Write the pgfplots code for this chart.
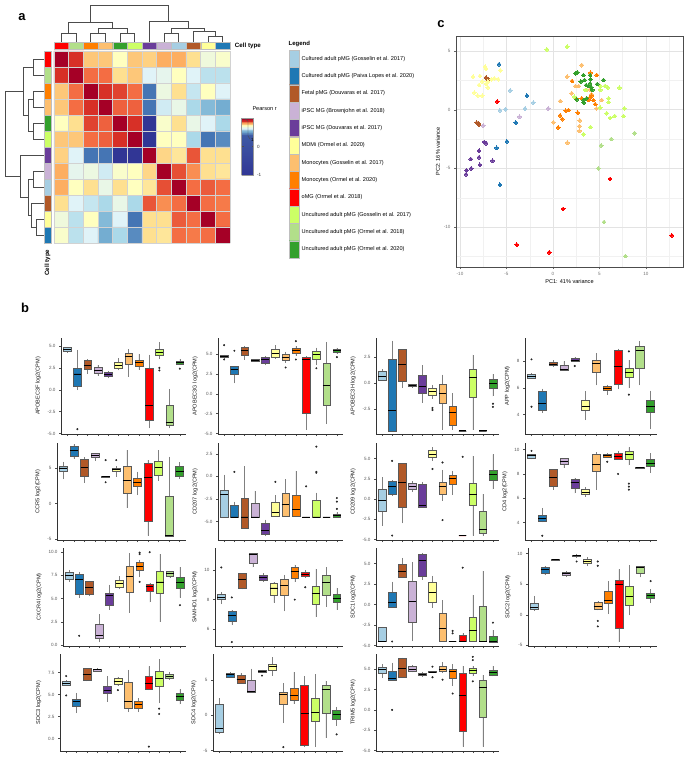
\documentclass[border=0pt]{standalone}
\usepackage{fontspec}
\setmainfont{Liberation Sans}
\usepackage{pgfplots}
\pgfplotsset{compat=1.18}
\usepgfplotslibrary{statistics}

\definecolor{c1}{HTML}{A6CEE3}
\definecolor{c2}{HTML}{1F78B4}
\definecolor{c3}{HTML}{B15928}
\definecolor{c4}{HTML}{CAB2D6}
\definecolor{c5}{HTML}{6A3D9A}
\definecolor{c6}{HTML}{FFFF99}
\definecolor{c7}{HTML}{FDBF6F}
\definecolor{c8}{HTML}{FF7F00}
\definecolor{c9}{HTML}{FF0000}
\definecolor{c10}{HTML}{CCFF66}
\definecolor{c11}{HTML}{B2DF8A}
\definecolor{c12}{HTML}{33A02C}

\newcommand\tkf{\fontsize{4.6}{5}\selectfont}
\newcommand\lbf{\fontsize{5.6}{6.5}\selectfont}

\pgfplotsset{
  /pgf/number format/assume math mode=true,
  colormap={hm}{rgb255=(49,54,149) rgb255=(69,117,180) rgb255=(116,173,209) rgb255=(171,217,233)
    rgb255=(224,243,248) rgb255=(255,255,191) rgb255=(254,224,144) rgb255=(253,174,97)
    rgb255=(244,109,67) rgb255=(215,48,39) rgb255=(165,0,38)},
  colormap={cb}{rgb255(0cm)=(49,54,149); rgb255(14cm)=(62,90,165); rgb255(15.5cm)=(116,173,209);
    rgb255(16.5cm)=(224,243,248); rgb255(17.5cm)=(255,255,191); rgb255(18.3cm)=(253,174,97);
    rgb255(19cm)=(215,48,39); rgb255(20cm)=(165,0,38)},
  bp/.style={scale only axis, anchor=north west, xmin=0.4, xmax=12.6,
    xtick={1,...,12}, xticklabels={}, axis lines=left,
    axis line style={-, black!80, line width=0.5bp},
    tick align=outside, major tick length=2bp, tick style={black!70, line width=0.4bp},
    yticklabel style={font=\tkf, black!65}, ylabel style={font=\lbf, black!90},
    clip=false, boxplot/draw direction=y, boxplot/box extend=0.75, boxplot/whisker extend=0,
    boxplot/every whisker/.style={black!50, line width=0.4bp},
    boxplot/every median/.style={black, line width=0.8bp}},
  fx1/.style={yticklabel style={/pgf/number format/fixed, /pgf/number format/fixed zerofill,
    /pgf/number format/precision=1}},
  pca/.style={only marks, mark=*, mark size=1.9bp, color=#1, mark options={draw=#1, fill=#1, line width=0bp}},
}

% box: position, lower whisker, lower quartile, median, upper quartile, upper whisker, outliers
\newcommand{\bx}[7]{\addplot[boxplot prepared={draw position=#1, lower whisker=#2,
  lower quartile=#3, median=#4, upper quartile=#5, upper whisker=#6},
  fill=c#1, draw=black!65, line width=0.4bp, mark=*, mark size=0.8bp,
  mark options={draw=black!85, fill=black!85}] coordinates {#7};}
\newcommand{\tile}[5]{\addplot[fill=#5, draw=gray!50, line width=0.3bp]
  coordinates {(#1,#3)(#2,#3)(#2,#4)(#1,#4)(#1,#3)};}

\begin{document}
\begin{tikzpicture}
\useasboundingbox (0,0) rectangle (685bp,-757bp);

\node[font=\fontsize{13}{14}\selectfont\bfseries] at (22bp,-17bp) {a};
\node[font=\fontsize{13}{14}\selectfont\bfseries] at (441bp,-24bp) {c};
\node[font=\fontsize{13}{14}\selectfont\bfseries] at (25bp,-308bp) {b};

% ---------------- heatmap
\begin{axis}[at={(54bp,-51bp)}, anchor=north west, scale only axis, width=176bp, height=192bp,
  xmin=0.5, xmax=12.5, ymin=0.5, ymax=12.5, y dir=reverse, clip=false,
  axis line style={draw=none}, tick style={draw=none},
  xtick={0.5,1.5,...,12.5}, ytick={0.5,1.5,...,12.5}, xticklabels={}, yticklabels={},
  grid=major, grid style={gray!35, line width=0.5bp}, axis on top,
  colormap name=hm, point meta min=-4, point meta max=6]
\addplot[matrix plot*, mesh/cols=12, point meta=explicit] coordinates {
(1,1)[6] (2,1)[5] (3,1)[2.5] (4,1)[2.5] (5,1)[1] (6,1)[2.5] (7,1)[2.3] (8,1)[3] (9,1)[3] (10,1)[2] (11,1)[0.5] (12,1)[0.8]
(1,2)[5] (2,2)[6] (3,2)[4] (4,2)[4] (5,2)[2] (6,2)[2.5] (7,2)[0] (8,2)[0.2] (9,2)[1] (10,2)[0] (11,2)[-0.7] (12,2)[-0.7]
(1,3)[2.5] (2,3)[4] (3,3)[6] (4,3)[5] (5,3)[4.7] (6,3)[4] (7,3)[-3] (8,3)[0.4] (9,3)[2] (10,3)[-0.5] (11,3)[1] (12,3)[0]
(1,4)[2.5] (2,4)[4] (3,4)[5] (4,4)[6] (5,4)[4.2] (6,4)[4.2] (7,4)[-3] (8,4)[-0.3] (9,4)[0.3] (10,4)[-1] (11,4)[-1.7] (12,4)[-2]
(1,5)[1] (2,5)[2] (3,5)[4.7] (4,5)[4.2] (5,5)[6] (6,5)[5] (7,5)[-4] (8,5)[0.8] (9,5)[2] (10,5)[0.3] (11,5)[0] (12,5)[-1]
(1,6)[2.5] (2,6)[2.5] (3,6)[4] (4,6)[4.2] (5,6)[5] (6,6)[6] (7,6)[-4] (8,6)[1] (9,6)[1] (10,6)[-1] (11,6)[-3] (12,6)[-2.6]
(1,7)[2.3] (2,7)[0] (3,7)[-3] (4,7)[-3] (5,7)[-4] (6,7)[-4] (7,7)[6] (8,7)[2.2] (9,7)[1.8] (10,7)[4.4] (11,7)[2] (12,7)[2]
(1,8)[3] (2,8)[0.2] (3,8)[0.4] (4,8)[-0.3] (5,8)[0.8] (6,8)[1] (7,8)[2.2] (8,8)[6] (9,8)[4.5] (10,8)[3.5] (11,8)[2] (12,8)[1.8]
(1,9)[3] (2,9)[1] (3,9)[2] (4,9)[0.3] (5,9)[2] (6,9)[1] (7,9)[1.8] (8,9)[4.5] (9,9)[6] (10,9)[4] (11,9)[4.3] (12,9)[4]
(1,10)[2] (2,10)[0] (3,10)[-0.5] (4,10)[-1] (5,10)[0.3] (6,10)[-1] (7,10)[4.4] (8,10)[3.5] (9,10)[4] (10,10)[6] (11,10)[4] (12,10)[3.8]
(1,11)[0.5] (2,11)[-0.7] (3,11)[1] (4,11)[-1.7] (5,11)[0] (6,11)[-3] (7,11)[2] (8,11)[2] (9,11)[4.3] (10,11)[4] (11,11)[6] (12,11)[4]
(1,12)[0.8] (2,12)[-0.7] (3,12)[0] (4,12)[-2] (5,12)[-1] (6,12)[-2.6] (7,12)[2] (8,12)[1.8] (9,12)[4] (10,12)[3.8] (11,12)[4] (12,12)[6]
};
% column dendrogram
\addplot[black!70, line width=0.45bp] coordinates {(1,-0.06)(1,-0.625)(2,-0.625)(2,-0.06)};
\addplot[black!70, line width=0.45bp] coordinates {(3,-0.06)(3,-0.625)(4,-0.625)(4,-0.06)};
\addplot[black!70, line width=0.45bp] coordinates {(5,-0.06)(5,-0.625)(6,-0.625)(6,-0.06)};
\addplot[black!70, line width=0.45bp] coordinates {(3.5,-0.625)(3.5,-0.94)(5.5,-0.94)(5.5,-0.625)};
\addplot[black!70, line width=0.45bp] coordinates {(1.5,-0.625)(1.5,-1.27)(4.5,-1.27)(4.5,-0.94)};
\addplot[black!70, line width=0.45bp] coordinates {(8,-0.06)(8,-0.625)(9,-0.625)(9,-0.06)};
\addplot[black!70, line width=0.45bp] coordinates {(11,-0.06)(11,-0.44)(12,-0.44)(12,-0.06)};
\addplot[black!70, line width=0.45bp] coordinates {(10,-0.06)(10,-0.71)(11.5,-0.71)(11.5,-0.44)};
\addplot[black!70, line width=0.45bp] coordinates {(8.5,-0.625)(8.5,-0.94)(10.75,-0.94)(10.75,-0.71)};
\addplot[black!70, line width=0.45bp] coordinates {(7,-0.06)(7,-1.39)(9.625,-1.39)(9.625,-0.94)};
\addplot[black!70, line width=0.45bp] coordinates {(3,-1.27)(3,-2.375)(8.3125,-2.375)(8.3125,-1.39)};
% row dendrogram
\addplot[black!70, line width=0.45bp] coordinates {(-0.18,1)(-0.93,1)(-0.93,2)(-0.18,2)};
\addplot[black!70, line width=0.45bp] coordinates {(-0.18,3)(-0.93,3)(-0.93,4)(-0.18,4)};
\addplot[black!70, line width=0.45bp] coordinates {(-0.18,5)(-0.93,5)(-0.93,6)(-0.18,6)};
\addplot[black!70, line width=0.45bp] coordinates {(-0.93,3.5)(-1.27,3.5)(-1.27,5.5)(-0.93,5.5)};
\addplot[black!70, line width=0.45bp] coordinates {(-0.93,1.5)(-1.63,1.5)(-1.63,4.5)(-1.27,4.5)};
\addplot[black!70, line width=0.45bp] coordinates {(-0.18,8)(-0.93,8)(-0.93,9)(-0.18,9)};
\addplot[black!70, line width=0.45bp] coordinates {(-0.18,11)(-0.73,11)(-0.73,12)(-0.18,12)};
\addplot[black!70, line width=0.45bp] coordinates {(-0.18,10)(-1.02,10)(-1.02,11.5)(-0.73,11.5)};
\addplot[black!70, line width=0.45bp] coordinates {(-0.93,8.5)(-1.27,8.5)(-1.27,10.75)(-1.02,10.75)};
\addplot[black!70, line width=0.45bp] coordinates {(-0.18,7)(-1.77,7)(-1.77,9.625)(-1.27,9.625)};
\addplot[black!70, line width=0.45bp] coordinates {(-1.63,3)(-2.84,3)(-2.84,8.3125)(-1.77,8.3125)};
% annotation tiles, top
\tile{0.5}{1.5}{-0.06}{0.375}{c9}   \tile{1.5}{2.5}{-0.06}{0.375}{c11}
\tile{2.5}{3.5}{-0.06}{0.375}{c8}   \tile{3.5}{4.5}{-0.06}{0.375}{c7}
\tile{4.5}{5.5}{-0.06}{0.375}{c12}  \tile{5.5}{6.5}{-0.06}{0.375}{c10}
\tile{6.5}{7.5}{-0.06}{0.375}{c5}   \tile{7.5}{8.5}{-0.06}{0.375}{c4}
\tile{8.5}{9.5}{-0.06}{0.375}{c1}   \tile{9.5}{10.5}{-0.06}{0.375}{c3}
\tile{10.5}{11.5}{-0.06}{0.375}{c6} \tile{11.5}{12.5}{-0.06}{0.375}{c2}
% annotation tiles, left
\tile{-0.18}{0.295}{0.5}{1.5}{c9}   \tile{-0.18}{0.295}{1.5}{2.5}{c11}
\tile{-0.18}{0.295}{2.5}{3.5}{c8}   \tile{-0.18}{0.295}{3.5}{4.5}{c7}
\tile{-0.18}{0.295}{4.5}{5.5}{c12}  \tile{-0.18}{0.295}{5.5}{6.5}{c10}
\tile{-0.18}{0.295}{6.5}{7.5}{c5}   \tile{-0.18}{0.295}{7.5}{8.5}{c4}
\tile{-0.18}{0.295}{8.5}{9.5}{c1}   \tile{-0.18}{0.295}{9.5}{10.5}{c3}
\tile{-0.18}{0.295}{10.5}{11.5}{c6} \tile{-0.18}{0.295}{11.5}{12.5}{c2}
\node[anchor=west, font=\fontsize{6.2}{7}\selectfont\bfseries] at (axis cs:12.6,0.16) {Cell type};
\node[rotate=90, anchor=east, font=\fontsize{6.2}{7}\selectfont\bfseries] at (axis cs:0.06,12.7) {Cell type};
\end{axis}

% ---------------- colour bar
\begin{axis}[at={(233bp,-118bp)}, anchor=north west, scale only axis, width=12bp, height=57bp,
  hide axis, xmin=0, xmax=1, ymin=0, ymax=1, colormap name=cb,
  point meta min=-1, point meta max=1, colorbar sampled,
  colorbar style={at={(parent axis.north west)}, anchor=north west, scale only axis,
    width=12bp, height=57bp, samples=80, ytick={-1,0},
    yticklabel style={font=\tkf, black!80}, axis line style={black!40, line width=0.3bp},
    major tick length=2bp, tick style={black!70}}]
\addplot[draw=none] coordinates {(0,0)};
\end{axis}
\node[anchor=west, font=\lbf] at (249bp,-109bp) {Pearson r};
\draw[black!70, line width=0.3bp] (245bp,-119bp) -- (248bp,-121bp) -- (248bp,-136bp) -- (250bp,-139bp);
\node[anchor=west, font=\tkf, inner sep=1bp] at (250bp,-140bp) {1};

% ---------------- legend
\begin{axis}[at={(289bp,-50bp)}, anchor=north west, scale only axis, width=10bp, height=208bp,
  hide axis, xmin=0, xmax=1, ymin=0, ymax=12, y dir=reverse, clip=false]
\tile{0}{1}{0}{1}{c1}   \tile{0}{1}{1}{2}{c2}   \tile{0}{1}{2}{3}{c3}
\tile{0}{1}{3}{4}{c4}   \tile{0}{1}{4}{5}{c5}   \tile{0}{1}{5}{6}{c6}
\tile{0}{1}{6}{7}{c7}   \tile{0}{1}{7}{8}{c8}   \tile{0}{1}{8}{9}{c9}
\tile{0}{1}{9}{10}{c10} \tile{0}{1}{10}{11}{c11} \tile{0}{1}{11}{12}{c12}
\node[anchor=south west, font=\fontsize{6}{7}\selectfont\bfseries, inner sep=0.5bp] at (axis cs:-0.1,-0.15) {Legend};
\begin{scope}[every node/.style={anchor=west, font=\fontsize{5.6}{6.5}\selectfont, inner sep=1bp}]
\node at (axis cs:1.15,0.5) {Cultured adult pMG (Gosselin et al. 2017)};
\node at (axis cs:1.15,1.5) {Cultured adult pMG (Paiva Lopes et al. 2020)};
\node at (axis cs:1.15,2.5) {Fetal pMG (Douvaras et al. 2017)};
\node at (axis cs:1.15,3.5) {iPSC MG (Brownjohn et al. 2018)};
\node at (axis cs:1.15,4.5) {iPSC MG (Douvaras et al. 2017)};
\node at (axis cs:1.15,5.5) {MDMi (Ormel et al. 2020)};
\node at (axis cs:1.15,6.5) {Monocytes (Gosselin et al. 2017)};
\node at (axis cs:1.15,7.5) {Monocytes (Ormel et al. 2020)};
\node at (axis cs:1.15,8.5) {oMG (Ormel et al. 2018)};
\node at (axis cs:1.15,9.5) {Uncultured adult pMG (Gosselin et al. 2017)};
\node at (axis cs:1.15,10.5) {Uncultured adult pMG (Ormel et al. 2018)};
\node at (axis cs:1.15,11.5) {Uncultured adult pMG (Ormel et al. 2020)};
\end{scope}
\end{axis}

% ---------------- PCA
\begin{axis}[at={(456bp,-36bp)}, anchor=north west, scale only axis, width=227bp, height=231bp,
  xmin=-10.43, xmax=14, ymin=-13.4, ymax=6.28,
  xtick={-10,-5,0,5,10}, ytick={-10,-5,0,5},
  minor xtick={-7.5,-2.5,2.5,7.5,12.5}, minor ytick={-12.5,-7.5,-2.5,2.5},
  grid=both, major grid style={gray!22, line width=0.5bp}, minor grid style={gray!11, line width=0.3bp},
  axis line style={black!70, line width=0.5bp}, xtick pos=lower, ytick pos=left,
  tick align=outside, major tick length=2bp, minor tick length=0pt, tick style={black!60},
  ticklabel style={font=\tkf, black!55}, label style={font=\lbf},
  xlabel={PC1: 41\% variance}, ylabel={PC2: 16\% variance},
  xlabel style={yshift=3bp}, ylabel style={yshift=-3bp}]
\addplot[pca=c1] coordinates {(-4.6,1.65)(-5.7,-0.05)(-5.1,0.05)(-3.0,0.1)(-2.1,0.6)};
\addplot[pca=c2] coordinates {(-5.8,3.87)(-2.8,1.2)(-4.0,-1.1)(-4.95,-2.7)(-6.05,-3.25)(-5.7,-6.4)};
\addplot[pca=c3] coordinates {(-7.2,2.75)(-7.1,2.65)(-6.95,2.6)(-8.2,-1.1)(-8.05,-1.2)(-7.95,-1.25)};
\addplot[pca=c4] coordinates {(-7.5,-1.35)(-3.6,-0.6)(-0.5,0.1)};
\addplot[pca=c5] coordinates {(-7.4,-2.75)(-7.2,-2.85)(-7.95,-3.5)(-8.85,-4.2)(-7.95,-4.05)(-7.85,-4.7)(-8.8,-5.0)(-9.3,-5.15)(-9.35,-5.5)(-6.5,-4.35)};
\addplot[pca=c6] coordinates {(-7.3,3.66)(-7.2,3.5)(-8.6,2.8)(-7.85,2.87)(-7.6,2.4)(-7.0,2.4)(-8.45,1.45)(-8.1,1.2)(-7.6,1.2)(-7.0,1.9)(-6.6,2.6)(-6.3,2.67)(-5.9,2.6)(-7.95,2.1)(-7.2,2.2)(-5.65,3.35)};
\addplot[pca=c7] coordinates {(3.1,3.8)(1.53,2.81)(2.42,2.02)(2.03,1.4)(2.78,2.02)(4.0,1.73)(0.8,0.74)(0.05,-1.08)(1.56,-2.81)(2.89,-0.91)(2.85,-1.39)(4.69,0.11)(5.26,0.82)(4.15,1.31)(3.64,1.68)(2.85,-1.8)};
\addplot[pca=c8] coordinates {(2.06,2.44)(3.1,0.97)(4.0,1.05)(4.15,1.19)(4.36,0.82)(4.54,0.48)(0.77,-0.48)(1.0,-0.8)(1.38,-0.09)(1.67,-0.03)(0.56,-1.5)(4.72,2.95)(4.04,3.15)(2.68,-0.26)(3.82,0.82)(2.5,0.94)};
\addplot[pca=c9] coordinates {(-6.0,0.7)(6.15,-5.9)(1.1,-8.45)(-3.9,-11.5)(-0.4,-12.15)(12.8,-10.7)};
\addplot[pca=c10] coordinates {(-0.66,5.14)(1.53,5.37)(5.08,2.02)(5.62,2.02)(5.9,1.9)(7.16,1.88)(5.1,1.68)(6.0,0.97)(6.0,0.65)(5.08,0.17)(5.8,-0.3)(6.16,-0.7)(6.66,-0.54)(7.7,0.11)(7.6,-0.54)(4.04,-1.48)(3.29,-2.1)(2.3,1.1)(3.47,1.68)};
\addplot[pca=c11] coordinates {(8.8,-2.0)(6.27,-2.5)(5.2,-3.04)(4.9,-5.0)(5.5,-9.57)(7.8,-12.47)};
\addplot[pca=c12] coordinates {(2.42,3.1)(2.64,3.18)(3.28,2.95)(4.0,2.95)(4.04,2.59)(3.39,2.53)(4.0,2.24)(3.57,2.1)(4.15,1.9)(4.76,2.19)(5.44,2.53)(3.0,2.41)(2.57,0.88)(3.29,0.82)(3.32,0.6)(3.64,0.97)(4.22,1.68)(3.82,2.02)};
\end{axis}

% ---------------- boxplots, row 1
\begin{axis}[bp, at={(61bp,-338bp)}, width=125bp, height=96bp, ymin=-5.05, ymax=5.9,
  ytick={-5,-2.5,0,2.5,5}, fx1, ylabel={APOBEC3F log2(CPM)}]
\bx{1}{4.2}{4.4}{4.6}{4.8}{4.9}{}
\bx{2}{-0.05}{0.35}{1.8}{2.45}{4.55}{(0,-4.5)}
\bx{3}{1.8}{2.3}{2.8}{3.35}{3.5}{}
\bx{4}{1.6}{1.9}{2.2}{2.55}{2.8}{}
\bx{5}{1.3}{1.5}{1.75}{1.95}{2.1}{}
\bx{6}{2.2}{2.45}{2.8}{3.1}{3.6}{}
\bx{7}{1.5}{2.95}{3.8}{4.2}{4.6}{}
\bx{8}{2.3}{2.7}{3.1}{3.4}{4.1}{}
\bx{9}{-4.4}{-3.45}{-1.8}{2.45}{4.0}{}
\bx{10}{3.5}{3.9}{4.3}{4.6}{5.4}{(0,2.5)(0,2.2)}
\bx{11}{-4.4}{-4.1}{-3.7}{-1.8}{0.1}{}
\bx{12}{2.8}{2.95}{3.1}{3.3}{3.5}{(0,2.4)}
\end{axis}

\begin{axis}[bp, at={(218bp,-338bp)}, width=125bp, height=96bp, ymin=-5.05, ymax=7.0,
  ytick={-5,-2.5,0,2.5,5}, fx1, ylabel={APOBEC3G log2(CPM)}]
\bx{1}{4.5}{4.55}{4.7}{4.85}{4.9}{(0,6.1)(0,4.3)}
\bx{2}{1.3}{2.4}{3.0}{3.4}{3.5}{(0,5.4)}
\bx{3}{4.3}{4.8}{5.4}{5.85}{6.0}{}
\bx{4}{4.1}{4.15}{4.2}{4.3}{4.3}{}
\bx{5}{3.6}{3.9}{4.3}{4.6}{4.7}{}
\bx{6}{4.4}{4.6}{5.1}{5.6}{6.1}{}
\bx{7}{3.9}{4.2}{4.6}{5.0}{5.3}{(0,3.3)}
\bx{8}{4.8}{5.1}{5.5}{5.7}{6.0}{(0,6.6)(0,4.3)}
\bx{9}{-4.5}{-2.4}{4.35}{4.55}{4.7}{}
\bx{10}{3.6}{4.4}{4.9}{5.3}{5.8}{(0,3.2)}
\bx{11}{-3.8}{-1.4}{1.1}{3.85}{6.5}{}
\bx{12}{5.0}{5.2}{5.4}{5.6}{5.8}{(0,4.6)}
\end{axis}

\begin{axis}[bp, at={(376bp,-338bp)}, width=123bp, height=96bp, ymin=-4.9, ymax=4.3,
  ytick={-2.5,0,2.5}, fx1, ylabel={APOBEC3H log2(CPM)}]
\bx{1}{0.3}{0.3}{0.65}{1.1}{1.3}{}
\bx{2}{-4.6}{-4.6}{-2.6}{2.3}{4.05}{}
\bx{3}{-0.5}{0.2}{1.8}{3.2}{3.2}{}
\bx{4}{-0.45}{-0.35}{-0.25}{-0.15}{-0.1}{}
\bx{5}{-1.9}{-1.0}{-0.3}{0.75}{1.7}{}
\bx{6}{-1.5}{-1.2}{-0.85}{-0.5}{-0.2}{(0,-2.4)(0,-2.6)}
\bx{7}{-4.5}{-1.95}{-1.0}{-0.1}{0.8}{}
\bx{8}{-4.5}{-4.1}{-2.85}{-2.2}{-1.0}{}
\bx{9}{-4.6}{-4.6}{-4.6}{-4.6}{-4.6}{}
\bx{10}{-4.5}{-1.4}{0.5}{1.3}{2.7}{}
\bx{11}{-4.6}{-4.6}{-4.6}{-4.6}{-4.6}{}
\bx{12}{-1.3}{-0.55}{-0.05}{0.35}{0.85}{(0,-2.0)(0,-2.3)}
\end{axis}

\begin{axis}[bp, at={(525bp,-338bp)}, width=132bp, height=96bp, ymin=2.55, ymax=9.75,
  ytick={4,6,8}, ylabel={APP log2(CPM)}]
\bx{1}{6.7}{6.75}{6.9}{7.05}{7.1}{(0,8.15)(0,4.6)}
\bx{2}{4.15}{4.3}{4.85}{5.75}{5.95}{}
\bx{3}{7.6}{7.7}{7.8}{7.9}{8.1}{}
\bx{4}{7.3}{7.3}{7.4}{7.7}{8.0}{}
\bx{5}{8.0}{8.0}{8.1}{8.2}{8.3}{(0,7.65)}
\bx{6}{3.6}{4.3}{4.6}{5.1}{5.75}{}
\bx{7}{6.2}{7.2}{7.85}{8.1}{8.6}{}
\bx{8}{5.5}{5.8}{5.95}{6.1}{6.25}{}
\bx{9}{5.9}{6.3}{7.65}{8.8}{8.95}{}
\bx{10}{6.0}{6.8}{7.2}{7.5}{8.1}{(0,8.75)(0,5.5)}
\bx{11}{6.2}{7.5}{8.8}{9.1}{9.5}{}
\bx{12}{2.9}{4.2}{4.6}{5.1}{5.8}{}
\end{axis}

% ---------------- row 2
\begin{axis}[bp, at={(57bp,-443bp)}, width=129bp, height=97bp, ymin=-5.1, ymax=8.5,
  ytick={-5,0,5}, ylabel={CCR5 log2(CPM)}]
\bx{1}{3.4}{4.5}{5.0}{5.25}{5.9}{}
\bx{2}{6.3}{6.6}{7.4}{8.0}{8.3}{}
\bx{3}{2.9}{3.8}{5.1}{6.2}{6.5}{}
\bx{4}{6.0}{6.5}{6.8}{7.1}{7.1}{}
\bx{5}{3.75}{3.75}{3.8}{3.85}{3.85}{(0,6.1)(0,3.0)}
\bx{6}{3.8}{4.5}{4.75}{5.0}{5.3}{(0,6.1)}
\bx{7}{-0.6}{1.4}{3.2}{5.3}{7.5}{}
\bx{8}{1.2}{2.4}{3.0}{3.5}{4.5}{}
\bx{9}{-4.5}{-2.5}{3.7}{5.7}{6.1}{}
\bx{10}{3.2}{4.0}{5.1}{6.0}{7.5}{}
\bx{11}{-4.5}{-4.5}{-4.5}{1.0}{6.6}{}
\bx{12}{3.5}{3.8}{4.5}{5.2}{5.8}{}
\end{axis}

\begin{axis}[bp, at={(218bp,-443bp)}, width=125bp, height=97bp, ymin=-7.05, ymax=3.7,
  ytick={-5,-2.5,0,2.5}, fx1, ylabel={CD207 log2(CPM)}]
\bx{1}{-4.5}{-4.5}{-2.0}{-1.5}{0.2}{}
\bx{2}{-4.5}{-4.5}{-4.5}{-3.2}{-2.8}{(0,0.5)}
\bx{3}{-5.8}{-5.7}{-4.5}{-2.4}{1.1}{}
\bx{4}{-4.5}{-4.5}{-4.5}{-3.0}{-1.6}{}
\bx{5}{-6.6}{-6.4}{-6.0}{-5.2}{-4.8}{}
\bx{6}{-4.4}{-4.4}{-4.0}{-2.9}{-2.1}{(0,-0.6)}
\bx{7}{-4.4}{-4.4}{-3.1}{-1.9}{-0.3}{}
\bx{8}{-4.4}{-4.4}{-3.7}{-2.1}{0.6}{}
\bx{9}{-4.5}{-4.5}{-4.5}{-4.5}{-4.5}{(0,-1.1)}
\bx{10}{-4.5}{-4.5}{-4.5}{-2.6}{-1.8}{(0,3.3)(0,0.5)(0,0.4)}
\bx{11}{-4.5}{-4.5}{-4.5}{-4.5}{-4.5}{}
\bx{12}{-4.6}{-4.5}{-4.35}{-4.2}{-4.0}{(0,-2.4)(0,-2.8)(0,-3.6)}
\end{axis}

\begin{axis}[bp, at={(376bp,-443bp)}, width=123bp, height=97bp, ymin=-5.05, ymax=6.9,
  ytick={-5,-2.5,0,2.5,5}, fx1, ylabel={CD209 log2(CPM)}]
\bx{1}{-3.3}{-1.5}{-0.2}{1.2}{2.7}{}
\bx{2}{0.4}{0.6}{1.6}{2.2}{2.3}{(0,4.7)(0,-4.5)}
\bx{3}{-3.0}{-1.0}{2.0}{4.4}{4.4}{}
\bx{4}{0.9}{1.2}{1.5}{1.9}{2.2}{}
\bx{5}{-1.1}{-1.0}{-0.8}{1.8}{2.1}{}
\bx{6}{4.7}{5.1}{5.5}{6.0}{6.4}{(0,3.7)}
\bx{7}{-0.2}{0.6}{1.5}{2.1}{3.6}{(0,4.5)(0,-2.6)}
\bx{8}{0.5}{1.8}{2.5}{2.9}{3.5}{}
\bx{9}{-4.5}{-4.5}{-4.5}{-4.5}{-4.5}{(0,5.2)}
\bx{10}{-4.5}{-0.8}{0.6}{2.0}{5.3}{}
\bx{11}{-4.5}{-4.2}{-3.8}{-1.5}{0.6}{}
\bx{12}{1.2}{2.3}{3.0}{3.6}{5.5}{}
\end{axis}

\begin{axis}[bp, at={(525bp,-443bp)}, width=132bp, height=97bp, ymin=2.55, ymax=10.55,
  ytick={4,6,8,10}, ylabel={CD4 log2(CPM)}]
\bx{1}{9.2}{9.3}{9.5}{9.6}{9.6}{(0,9.9)}
\bx{2}{4.0}{4.1}{4.35}{4.6}{5.2}{(0,2.9)}
\bx{3}{6.7}{7.0}{7.7}{8.4}{8.4}{}
\bx{4}{8.5}{8.8}{9.0}{9.3}{9.3}{}
\bx{5}{6.4}{6.8}{7.3}{7.6}{7.7}{}
\bx{6}{6.1}{6.3}{6.5}{6.7}{6.9}{}
\bx{7}{6.7}{8.2}{8.8}{9.6}{9.8}{}
\bx{8}{9.3}{9.4}{9.5}{9.6}{9.7}{(0,9.0)}
\bx{9}{9.2}{9.2}{9.45}{9.7}{9.9}{(0,8.0)}
\bx{10}{8.7}{9.2}{9.6}{9.9}{10.2}{(0,7.2)(0,6.95)(0,6.7)}
\bx{11}{8.45}{8.45}{8.5}{8.55}{8.55}{}
\bx{12}{8.1}{8.6}{8.9}{9.2}{9.7}{}
\end{axis}

% ---------------- row 3
\begin{axis}[bp, at={(63bp,-548bp)}, width=123bp, height=98bp, ymin=-0.1, ymax=10.45,
  ytick={0,2.5,5,7.5,10}, fx1, ylabel={CXCR4 log2(CPM)}]
\bx{1}{6.8}{7.1}{7.5}{7.8}{8.1}{}
\bx{2}{5.1}{5.5}{7.1}{7.6}{7.9}{(0,1.0)}
\bx{3}{5.3}{5.5}{6.2}{6.9}{6.9}{}
\bx{4}{0.3}{0.7}{1.0}{2.2}{3.3}{}
\bx{5}{3.8}{4.3}{5.3}{5.6}{6.5}{}
\bx{6}{6.0}{6.2}{6.6}{7.0}{7.4}{}
\bx{7}{3.5}{5.7}{7.4}{8.5}{9.9}{}
\bx{8}{7.3}{8.1}{8.5}{8.9}{9.2}{(0,9.8)(0,9.95)(0,6.8)}
\bx{9}{4.6}{5.8}{6.3}{6.6}{6.7}{(0,10.0)}
\bx{10}{2.5}{5.6}{6.8}{7.9}{9.8}{}
\bx{11}{7.2}{7.4}{7.7}{7.9}{8.0}{}
\bx{12}{5.1}{6.1}{6.7}{7.3}{8.4}{(0,4.3)}
\end{axis}

\begin{axis}[bp, at={(215bp,-548bp)}, width=128bp, height=98bp, ymin=4.83, ymax=11.53,
  ytick={6,8,10}, ylabel={SAMHD1 log2(CPM)}]
\bx{1}{7.7}{8.0}{8.15}{8.4}{8.5}{(0,10.2)}
\bx{2}{6.3}{6.5}{6.9}{7.2}{7.3}{(0,8.15)(0,5.1)}
\bx{3}{8.7}{8.8}{9.35}{9.8}{9.8}{}
\bx{4}{10.2}{10.5}{11.1}{11.2}{11.2}{}
\bx{5}{9.2}{9.3}{9.5}{9.7}{9.8}{}
\bx{6}{7.8}{8.3}{8.8}{9.1}{9.2}{}
\bx{7}{7.2}{8.3}{9.0}{9.4}{9.7}{}
\bx{8}{9.2}{9.5}{9.95}{10.2}{10.4}{(0,8.0)}
\bx{9}{9.5}{9.6}{9.75}{9.9}{10.0}{(0,8.85)}
\bx{10}{6.8}{7.7}{8.45}{8.9}{10.1}{}
\bx{11}{7.5}{8.3}{9.2}{9.7}{10.2}{}
\bx{12}{7.3}{7.8}{8.1}{8.4}{8.8}{}
\end{axis}

\begin{axis}[bp, at={(376bp,-548bp)}, width=123bp, height=98bp, ymin=-5.05, ymax=6.9,
  ytick={-5,-2.5,0,2.5,5}, fx1, ylabel={SDC1 log2(CPM)}]
\bx{1}{-4.5}{-4.5}{-4.5}{-2.7}{-2.7}{}
\bx{2}{-0.3}{-0.3}{0.3}{1.5}{2.8}{(0,-4.5)}
\bx{3}{3.3}{3.3}{4.0}{4.9}{5.7}{}
\bx{4}{-4.5}{-2.1}{0.35}{2.8}{5.2}{}
\bx{5}{3.0}{3.5}{5.4}{6.1}{6.3}{}
\bx{6}{-0.4}{0.3}{1.5}{2.7}{3.5}{}
\bx{7}{-4.5}{-4.5}{-2.9}{-1.1}{0.5}{}
\bx{8}{-4.5}{-4.5}{-4.5}{-4.5}{-4.5}{(0,-3.2)(0,-3.5)}
\bx{9}{-4.5}{-4.5}{-4.5}{-3.7}{-3.5}{(0,4.5)}
\bx{10}{-4.5}{-4.5}{-3.2}{-1.5}{1.2}{}
\bx{11}{-4.5}{-4.5}{-4.5}{-0.2}{4.1}{}
\bx{12}{-4.6}{-4.6}{-4.5}{-3.8}{-3.1}{(0,-2.2)}
\end{axis}

\begin{axis}[bp, at={(528bp,-548bp)}, width=129bp, height=98bp, ymin=-5.1, ymax=10.9,
  ytick={-5,0,5,10}, ylabel={SDC2 log2(CPM)}]
\bx{1}{0.6}{0.9}{1.2}{1.9}{3.1}{}
\bx{2}{6.5}{6.8}{7.4}{7.8}{7.9}{}
\bx{3}{8.9}{8.9}{9.0}{9.1}{9.1}{}
\bx{4}{6.2}{6.5}{6.8}{7.0}{7.1}{}
\bx{5}{9.4}{9.5}{9.7}{9.8}{10.0}{(0,8.7)}
\bx{6}{7.9}{8.5}{8.7}{9.0}{9.4}{}
\bx{7}{0.7}{0.9}{1.4}{2.0}{2.2}{(0,8.7)(0,8.0)(0,-1.0)(0,-1.9)}
\bx{8}{0.1}{1.9}{2.4}{3.9}{5.5}{}
\bx{9}{-4.5}{-2.2}{5.0}{5.6}{7.4}{}
\bx{10}{-0.1}{1.6}{3.0}{4.7}{8.1}{}
\bx{11}{6.1}{6.8}{7.7}{7.9}{7.9}{}
\bx{12}{1.9}{2.7}{3.1}{3.5}{4.2}{(0,5.5)}
\end{axis}

% ---------------- row 4
\begin{axis}[bp, at={(60bp,-654bp)}, width=126bp, height=97bp, ymin=-1.4, ymax=9.6,
  ytick={0,2.5,5,7.5}, fx1, ylabel={SDC3 log2(CPM)}]
\bx{1}{6.0}{6.1}{6.3}{6.5}{6.6}{(0,7.1)(0,4.9)}
\bx{2}{2.9}{3.7}{4.2}{4.5}{5.2}{}
\bx{3}{6.5}{6.6}{7.3}{8.0}{8.0}{}
\bx{4}{7.7}{7.7}{7.8}{7.9}{8.0}{}
\bx{5}{4.2}{5.2}{5.5}{6.0}{7.1}{}
\bx{6}{6.0}{6.2}{6.5}{6.8}{7.0}{(0,5.5)}
\bx{7}{3.0}{3.5}{4.2}{6.4}{7.8}{}
\bx{8}{3.0}{3.5}{3.9}{4.3}{4.6}{}
\bx{9}{5.5}{5.6}{6.3}{7.1}{8.2}{(0,-0.9)}
\bx{10}{4.0}{6.0}{6.8}{7.6}{9.0}{(0,3.4)(0,2.8)}
\bx{11}{6.7}{6.8}{7.1}{7.3}{7.6}{}
\bx{12}{3.9}{4.4}{4.8}{5.1}{5.6}{}
\end{axis}

\begin{axis}[bp, at={(213bp,-654bp)}, width=130bp, height=97bp, ymin=-5.05, ymax=8.65,
  ytick={-5,0,5}, ylabel={SDC4 log2(CPM)}]
\bx{1}{-2.6}{-2.4}{-1.9}{1.5}{2.4}{}
\bx{2}{5.3}{5.4}{5.8}{6.0}{6.1}{}
\bx{3}{4.5}{4.5}{5.0}{5.6}{5.9}{}
\bx{4}{3.2}{3.2}{3.4}{5.0}{6.6}{}
\bx{5}{6.0}{6.1}{6.2}{6.3}{6.4}{(0,5.6)}
\bx{6}{5.6}{6.3}{6.9}{7.2}{8.2}{}
\bx{7}{-1.1}{1.5}{3.0}{3.3}{4.5}{(0,-4.5)}
\bx{8}{1.6}{2.1}{2.8}{3.8}{6.1}{}
\bx{9}{-4.5}{-4.2}{0.2}{4.2}{5.5}{}
\bx{10}{-4.5}{-0.9}{0.4}{2.4}{5.8}{}
\bx{11}{-3.2}{0.3}{3.7}{4.3}{4.9}{}
\bx{12}{-1.5}{-0.6}{0.1}{0.7}{1.2}{(0,-2.7)}
\end{axis}

\begin{axis}[bp, at={(376bp,-654bp)}, width=123bp, height=97bp, ymin=-5.05, ymax=6.85,
  ytick={-5,-2.5,0,2.5,5}, fx1, ylabel={TRIM5 log2(CPM)}]
\bx{1}{3.9}{4.5}{5.0}{5.2}{5.6}{}
\bx{2}{3.6}{3.6}{3.8}{4.8}{5.8}{(0,0.0)}
\bx{3}{4.0}{4.0}{5.1}{6.3}{6.4}{}
\bx{4}{4.6}{4.8}{5.0}{5.3}{5.5}{}
\bx{5}{4.0}{4.2}{4.3}{4.5}{4.7}{}
\bx{6}{4.6}{4.6}{4.65}{4.7}{4.7}{(0,5.3)(0,4.0)}
\bx{7}{4.5}{4.7}{5.0}{5.3}{5.9}{(0,3.7)}
\bx{8}{2.9}{3.9}{4.7}{5.0}{5.6}{(0,2.0)}
\bx{9}{-4.5}{-2.6}{1.8}{4.5}{5.4}{}
\bx{10}{4.1}{4.5}{4.8}{5.1}{5.4}{(0,6.5)(0,6.1)(0,3.5)}
\bx{11}{-4.5}{-0.9}{2.8}{3.6}{4.3}{}
\bx{12}{4.1}{4.3}{4.6}{4.9}{5.4}{}
\end{axis}

\end{tikzpicture}
\end{document}
